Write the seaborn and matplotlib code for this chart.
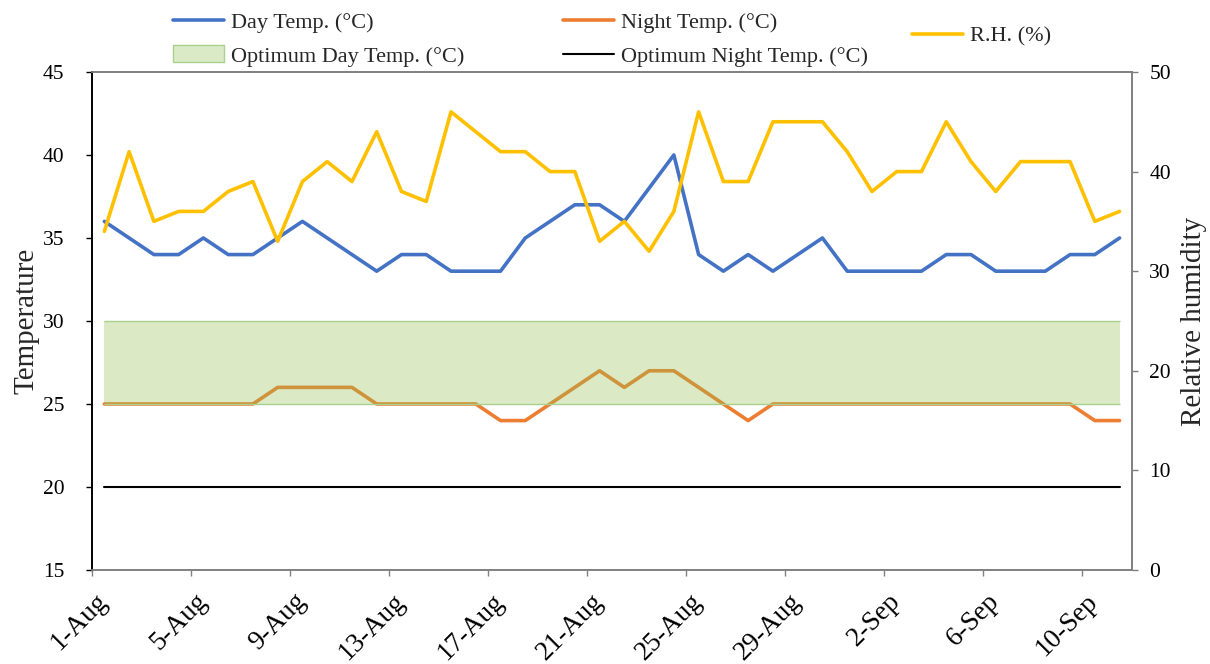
import numpy as np
import pandas as pd
import matplotlib
matplotlib.use("Agg")
import matplotlib.pyplot as plt
import matplotlib.transforms as mtransforms
from matplotlib.patches import Patch
from matplotlib.lines import Line2D
import seaborn as sns

# Daily records, 1 Aug - 11 Sep
day_temp = [36, 35, 34, 34, 35, 34, 34, 35, 36, 35, 34, 33, 34, 34, 33, 33, 33, 35, 36, 37, 37,
            36, 38, 40, 34, 33, 34, 33, 34, 35, 33, 33, 33, 33, 34, 34, 33, 33, 33, 34, 34, 35]
night_temp = [25, 25, 25, 25, 25, 25, 25, 26, 26, 26, 26, 25, 25, 25, 25, 25, 24, 24, 25, 26, 27,
              26, 27, 27, 26, 25, 24, 25, 25, 25, 25, 25, 25, 25, 25, 25, 25, 25, 25, 25, 24, 24]
rel_humidity = [34, 42, 35, 36, 36, 38, 39, 33, 39, 41, 39, 44, 38, 37, 46, 44, 42, 42, 40, 40, 33,
                35, 32, 36, 46, 39, 39, 45, 45, 45, 42, 38, 40, 40, 45, 41, 38, 41, 41, 41, 35, 36]
opt_day_low = 25
opt_day_high = 30
opt_night = 20
tick_labels = ["1-Aug", "5-Aug", "9-Aug", "13-Aug", "17-Aug", "21-Aug",
               "25-Aug", "29-Aug", "2-Sep", "6-Sep", "10-Sep"]

n_days = len(day_temp)
df = pd.DataFrame({
    "day": np.arange(n_days),
    "day_temp": day_temp,
    "night_temp": night_temp,
    "rh": rel_humidity,
    "opt_night": [opt_night] * n_days,
})

sns.set_theme(style="ticks")
plt.rcParams["font.family"] = ["Liberation Serif", "DejaVu Serif"]

BLUE = "#4472C4"
ORANGE = "#ED7D31"
YELLOW = "#FFC000"
GREEN = "#92C050"
GREEN_EDGE = "#A9D18E"
AXIS_GREY = "#808080"

fig = plt.figure(figsize=(12.1, 6.64), dpi=100)
ax = fig.add_axes([0.076, 0.1416, 0.8595, 0.75])

sns.lineplot(data=df, x="day", y="day_temp", ax=ax, color=BLUE, lw=2.6, zorder=3)
sns.lineplot(data=df, x="day", y="night_temp", ax=ax, color=ORANGE, lw=2.6, zorder=3)
sns.lineplot(data=df, x="day", y="opt_night", ax=ax, color="black", lw=1.5, zorder=3)

# Optimum day-temperature band, drawn translucent over the series
ax.fill_between(df["day"], opt_day_low, opt_day_high, color=GREEN, alpha=0.33, lw=0, zorder=4)
ax.hlines([opt_day_low, opt_day_high], df["day"].iloc[0], df["day"].iloc[-1],
          color=GREEN_EDGE, lw=1.0, zorder=4)

ax.set_xlim(-0.5, n_days - 0.5)
ax.set_ylim(15, 45)
ax.set_yticks(np.arange(15, 46, 5))
ax.set_xticks(np.arange(len(tick_labels)) * 4 - 0.5)
ax.set_xticklabels(tick_labels)
ax.set_xlabel("")
ax.set_ylabel("Temperature", fontsize=21, labelpad=2)

ax2 = ax.twinx()
sns.lineplot(data=df, x="day", y="rh", ax=ax2, color=YELLOW, lw=2.6, zorder=3)
ax2.set_ylim(0, 50)
ax2.set_yticks(np.arange(0, 51, 10))
ax2.set_ylabel("Relative humidity", fontsize=21, labelpad=7)
ax2.set_xlim(-0.5, n_days - 0.5)

for a in (ax, ax2):
    a.tick_params(axis="both", labelsize=15.5, length=4.5, width=1, colors="black",
                  direction="out", pad=6)
    for s in a.spines.values():
        s.set_color(AXIS_GREY)
        s.set_linewidth(1.2)
    a.spines["left"].set_color("black")
ax.tick_params(axis="y", pad=15.5)
ax.tick_params(axis="x", color=AXIS_GREY, labelsize=19.5)
ax2.tick_params(axis="y", color=AXIS_GREY, pad=8)

# Rotated date labels, anchored at their right end just below each tick
shift = mtransforms.ScaledTranslation(12 / 100, -13 / 100, fig.dpi_scale_trans)
for lbl in ax.get_xticklabels():
    lbl.set_rotation(45)
    lbl.set_ha("right")
    lbl.set_va("center")
    lbl.set_rotation_mode("anchor")
    lbl.set_transform(lbl.get_transform() + shift)

# Legend: two rows on the left, humidity entry on its own at right
handles = [
    Line2D([], [], color=BLUE, lw=2.6),
    Patch(facecolor="#DAEAC6", edgecolor=GREEN_EDGE, lw=1.0),
    Line2D([], [], color=ORANGE, lw=2.6),
    Line2D([], [], color="black", lw=1.5),
]
labels = ["Day Temp. (°C)", "Optimum Day Temp. (°C)",
          "Night Temp. (°C)", "Optimum Night Temp. (°C)"]
fig.legend(handles, labels, ncol=2, loc="upper left", bbox_to_anchor=(0.143, 0.982),
           frameon=False, fontsize=16, handlelength=2.3, handleheight=0.8,
           handletextpad=0.3, columnspacing=4.45, labelspacing=0.55,
           borderpad=0, borderaxespad=0)
fig.legend([Line2D([], [], color=YELLOW, lw=2.6)], ["R.H. (%)"], loc="upper left",
           bbox_to_anchor=(0.754, 0.961), frameon=False, fontsize=16,
           handlelength=2.3, handletextpad=0.3, borderpad=0, borderaxespad=0)

fig.savefig("out.png", dpi=100)
